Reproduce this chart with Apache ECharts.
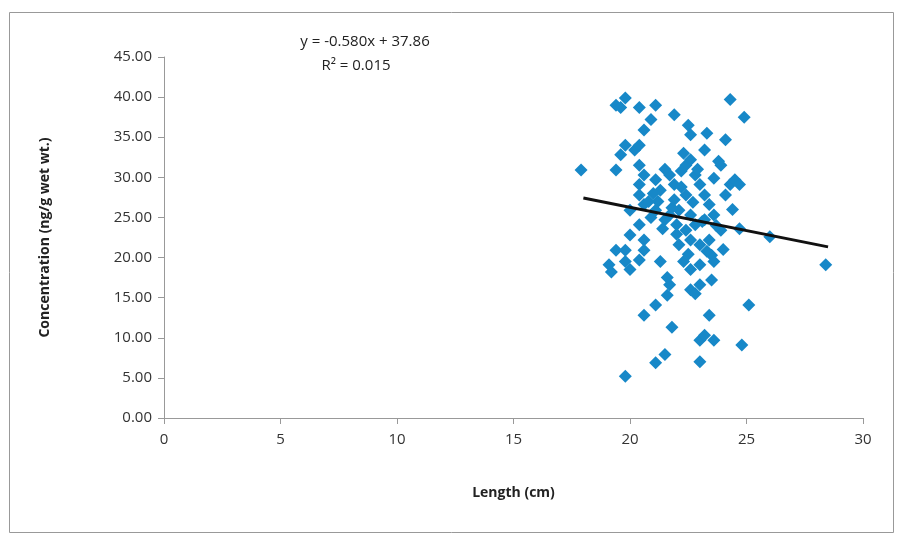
<!DOCTYPE html>
<html>
<head>
<meta charset="utf-8">
<script src="https://cdn.jsdelivr.net/npm/echarts@6/dist/echarts.min.js"></script>
<style>html,body{margin:0;padding:0;background:#fff}#c{width:901px;height:535px}</style>
</head>
<body>
<div id="c"></div>
<script>
// Data
const lengths = [
  17.9, 28.4, 19.8, 24.9, 24.3, 25.1, 24.8, 26.0, 24.7,
  19.4, 19.6, 19.8, 20.4, 21.1, 20.9, 19.8, 20.2, 20.4, 20.6, 19.6, 19.4,
  20.4, 20.6, 20.4, 21.1, 21.3, 20.4, 20.6, 20.0, 21.1, 20.4, 20.0, 20.6,
  19.4, 19.8, 19.1, 19.2, 19.8, 20.0, 20.4, 20.6, 21.3, 20.6, 21.1, 21.6,
  21.1, 21.5, 21.8, 21.7,
  21.9, 22.5, 22.6, 23.3, 23.2, 23.9, 24.1, 23.6, 22.4, 22.6, 21.7, 21.9,
  22.4, 22.8, 23.0, 23.2, 23.4, 22.1, 21.7, 22.6, 21.5, 22.0, 22.4, 22.8,
  23.2, 23.6, 23.9, 23.4, 23.0, 22.6, 22.1, 22.3, 22.6, 23.0, 23.5, 23.6,
  22.6, 23.0, 23.5, 23.4, 23.0, 23.2, 23.6, 23.0, 24.3, 24.5, 24.7, 24.1,
  21.2, 21.8, 22.2, 22.9, 23.8, 22.0, 21.4, 22.7, 23.1, 24.0, 20.9, 21.0,
  22.3, 23.3, 24.4, 21.6, 22.8, 22.2, 21.9, 22.5, 23.7, 20.8, 21.5
];
const concentrations = [
  30.9, 19.1, 5.2, 37.5, 39.7, 14.1, 9.1, 22.6, 23.6,
  39.0, 38.7, 39.9, 38.7, 39.0, 37.2, 34.0, 33.4, 34.0, 35.9, 32.8, 30.9,
  31.5, 30.3, 29.1, 29.7, 28.4, 27.8, 26.6, 25.9, 25.9, 24.1, 22.8, 22.2,
  20.9, 20.9, 19.1, 18.2, 19.5, 18.5, 19.7, 20.9, 19.5, 12.8, 14.1, 15.3,
  6.9, 7.9, 11.3, 16.6,
  37.8, 36.5, 35.3, 35.5, 33.4, 31.5, 34.7, 29.9, 31.5, 32.2, 30.3, 29.1,
  27.8, 30.3, 29.1, 27.8, 26.6, 25.9, 25.3, 25.3, 24.7, 24.1, 23.4, 24.1,
  24.7, 25.3, 23.4, 22.2, 21.6, 22.2, 21.6, 19.5, 18.5, 19.1, 20.3, 19.5,
  16.0, 16.6, 17.2, 12.8, 9.7, 10.3, 9.7, 7.0, 29.1, 29.7, 29.1, 27.8,
  27.0, 26.2, 28.8, 31.0, 32.0, 22.9, 23.6, 26.9, 24.5, 21.0, 25.0, 28.0,
  33.0, 20.8, 26.0, 17.5, 15.5, 30.8, 27.2, 20.4, 24.0, 27.0, 31.0
];
const slope = -0.580;
const intercept = 37.86;
const trendX = [18.0, 28.5];
const yTicks = [0, 5, 10, 15, 20, 25, 30, 35, 40, 45];
const xTicks = [0, 5, 10, 15, 20, 25, 30];

const points = lengths.map((x, i) => [x, concentrations[i]]);
const trend = trendX.map(x => [x, slope * x + intercept]);

const chart = echarts.init(document.getElementById('c'));
const font = '"Open Sans", "Liberation Sans", sans-serif';
chart.setOption({
  animation: false,
  backgroundColor: '#fff',
  grid: { left: 164, right: 38, top: 57, bottom: 117 },
  xAxis: {
    type: 'value', min: xTicks[0], max: xTicks[xTicks.length - 1], interval: 5,
    name: 'Length (cm)', nameLocation: 'middle', nameGap: 68,
    nameTextStyle: { fontFamily: font, fontSize: 14, fontWeight: 'bold', color: '#222' },
    axisLine: { lineStyle: { color: '#999', width: 1 } },
    axisTick: { show: true, inside: false, length: 6, lineStyle: { color: '#999' } },
    axisLabel: { fontFamily: font, fontSize: 15, color: '#333', margin: 14 },
    splitLine: { show: false }
  },
  yAxis: {
    type: 'value', min: yTicks[0], max: yTicks[yTicks.length - 1], interval: 5,
    name: 'Concentration (ng/g wet wt.)', nameLocation: 'middle', nameGap: 112, nameRotate: 90,
    nameTextStyle: { fontFamily: font, fontSize: 14, fontWeight: 'bold', color: '#222' },
    axisLine: { show: true, lineStyle: { color: '#999', width: 1 } },
    axisTick: { show: true, inside: false, length: 6, lineStyle: { color: '#999' } },
    axisLabel: { fontFamily: font, fontSize: 15, color: '#333', margin: 12, formatter: v => v.toFixed(2) },
    splitLine: { show: false }
  },
  series: [
    {
      type: 'scatter', data: points, symbol: 'diamond', symbolSize: 13,
      itemStyle: { color: '#1788c8', opacity: 1 }, z: 2
    },
    {
      type: 'line', data: trend, symbol: 'none',
      lineStyle: { color: '#111', width: 3 }, z: 3
    }
  ],
  graphic: [
    { type: 'rect', shape: { x: 9.5, y: 12.5, width: 884, height: 520 },
      style: { fill: 'none', stroke: '#999', lineWidth: 1 }, silent: true },
    { type: 'text', x: 365, y: 42, style: { text: 'y = -0.580x + 37.86', fontFamily: font, fontSize: 15, fill: '#222', align: 'center', verticalAlign: 'middle' } },
    { type: 'text', x: 356, y: 66, style: { text: 'R² = 0.015', fontFamily: font, fontSize: 15, fill: '#222', align: 'center', verticalAlign: 'middle' } }
  ]
});
</script>
</body>
</html>
